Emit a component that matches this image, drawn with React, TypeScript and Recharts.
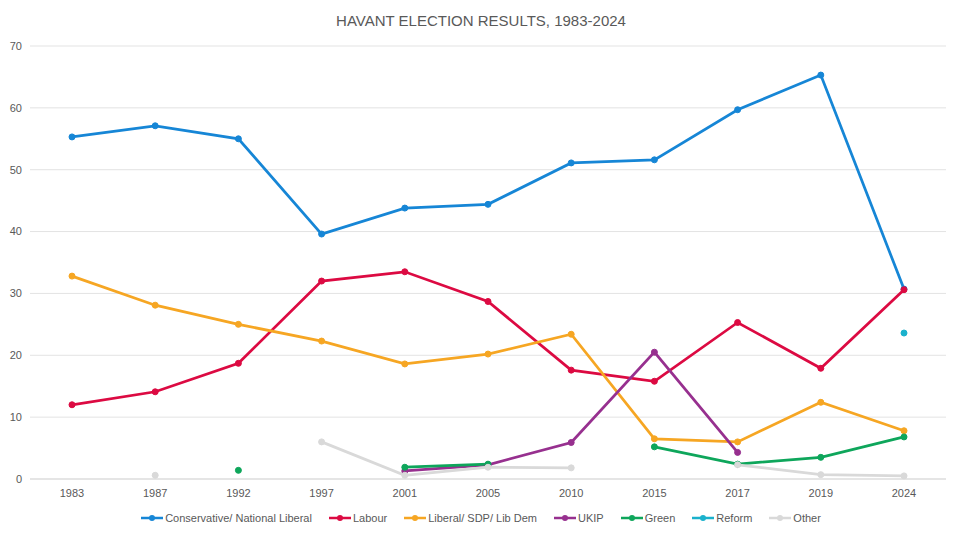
import { CartesianGrid, Line, LineChart, XAxis, YAxis } from 'recharts'

const years = ['1983', '1987', '1992', '1997', '2001', '2005', '2010', '2015', '2017', '2019', '2024']

const conservative = [55.3, 57.1, 55.0, 39.6, 43.8, 44.4, 51.1, 51.6, 59.7, 65.3, 30.7]
const labour = [12.0, 14.1, 18.7, 32.0, 33.5, 28.7, 17.6, 15.8, 25.3, 17.9, 30.6]
const libDem = [32.8, 28.1, 25.0, 22.3, 18.6, 20.2, 23.4, 6.5, 6.0, 12.4, 7.8]
const ukip = [null, null, null, null, 1.3, 2.3, 5.9, 20.5, 4.3, null, null]
const green = [null, null, 1.4, null, 1.9, 2.4, null, 5.2, 2.4, 3.5, 6.8]
const reform = [null, null, null, null, null, null, null, null, null, null, 23.6]
const other = [null, 0.6, null, 6.0, 0.6, 1.9, 1.8, null, 2.3, 0.7, 0.5]

const yTicks = [0, 10, 20, 30, 40, 50, 60, 70]

const series = [
  { key: 'con', name: 'Conservative/ National Liberal', color: '#1686d6', values: conservative },
  { key: 'lab', name: 'Labour', color: '#dc0a42', values: labour },
  { key: 'lib', name: 'Liberal/ SDP/ Lib  Dem', color: '#f6a623', values: libDem },
  { key: 'ukip', name: 'UKIP', color: '#97308f', values: ukip },
  { key: 'green', name: 'Green', color: '#0ea65b', values: green },
  { key: 'reform', name: 'Reform', color: '#1ab1cc', values: reform },
  { key: 'other', name: 'Other', color: '#d9d9d9', values: other },
]

const data = years.map((year, i) => {
  const row: Record<string, string | number | null> = { year }
  series.forEach((s) => {
    row[s.key] = s.values[i]
  })
  return row
})

const font = '"Liberation Sans Narrow", "Liberation Sans", Arial, sans-serif'
const textColor = '#595959'

const LegendRow = () => (
  <div
    style={{
      position: 'absolute',
      top: 511,
      left: 0,
      width: 960,
      display: 'flex',
      justifyContent: 'center',
      gap: 17,
      fontFamily: font,
      fontSize: 11,
      color: textColor,
    }}
  >
    {series.map((s) => (
      <div key={s.key} style={{ display: 'flex', alignItems: 'center' }}>
        <svg width={22} height={10} style={{ marginRight: 2 }}>
          <line x1={0} y1={5} x2={22} y2={5} stroke={s.color} strokeWidth={2.5} />
          <circle cx={11} cy={5} r={3} fill={s.color} />
        </svg>
        <span>{s.name}</span>
      </div>
    ))}
  </div>
)

export default function App() {
  return (
    <div
      style={{
        position: 'relative',
        width: 960,
        height: 537,
        margin: -8,
        background: '#fff',
        boxSizing: 'border-box',
        border: '1px solid #d9d9d9',
      }}
    >
      <div
        style={{
          position: 'absolute',
          top: 11,
          left: 0,
          width: 960,
          textAlign: 'center',
          fontFamily: font,
          fontSize: 15,
          color: textColor,
        }}
      >
        HAVANT ELECTION RESULTS, 1983-2024
      </div>
      <LineChart
        width={958}
        height={535}
        data={data}
        margin={{ top: 45, right: 13, left: 0, bottom: 27 }}
      >
        <CartesianGrid vertical={false} stroke="#e3e3e3" />
        <XAxis
          dataKey="year"
          height={30}
          padding={{ left: 42, right: 42 }}
          tickLine={false}
          axisLine={{ stroke: '#d9d9d9' }}
          tick={{ fill: textColor, fontSize: 11, fontFamily: font }}
          tickMargin={4}
        />
        <YAxis
          width={29}
          domain={[0, 70]}
          ticks={yTicks}
          tickLine={false}
          axisLine={false}
          tick={{ fill: textColor, fontSize: 11, fontFamily: font }}
        />
        {series.map((s) => (
          <Line
            key={s.key}
            dataKey={s.key}
            name={s.name}
            stroke={s.color}
            strokeWidth={2.75}
            dot={{ r: 3, fill: s.color, stroke: s.color, strokeWidth: 1 }}
            activeDot={false}
            isAnimationActive={false}
          />
        ))}
      </LineChart>
      <LegendRow />
    </div>
  )
}
